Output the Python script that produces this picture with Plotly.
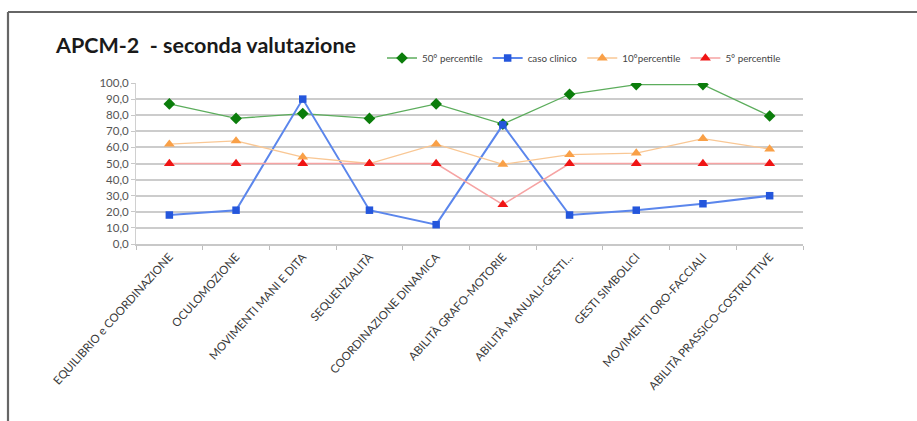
import plotly.graph_objects as go

categories = [
    "EQUILIBRIO e COORDINAZIONE",
    "OCULOMOZIONE",
    "MOVIMENTI MANI E DITA",
    "SEQUENZIALITÀ",
    "COORDINAZIONE DINAMICA",
    "ABILITÀ GRAFO-MOTORIE",
    "ABILITÀ MANUALI-GESTI...",
    "GESTI SIMBOLICI",
    "MOVIMENTI ORO-FACCIALI",
    "ABILITÀ PRASSICO-COSTRUTTIVE",
]
p50 = [87, 78, 81, 78, 87, 74.5, 93, 99, 99, 79.5]
caso = [18, 21, 90, 21, 12, 74, 18, 21, 25, 30]
p10 = [62, 64, 54, 50, 62, 49.5, 55.5, 56.5, 65.5, 59]
p5 = [50, 50, 50, 50, 50, 24.5, 50, 50, 50, 50]

W, H = 917, 421
L, R, T, B = 136, 803, 83, 244

fig = go.Figure()
fig.add_trace(go.Scatter(
    x=categories, y=p50, name="50° percentile", mode="lines+markers",
    line=dict(color="#5cad5c", width=1.3),
    marker=dict(symbol="diamond", size=9, color="#0b7d0b"),
))
fig.add_trace(go.Scatter(
    x=categories, y=caso, name="caso clinico", mode="lines+markers",
    line=dict(color="#5b86ec", width=2),
    marker=dict(symbol="square", size=7.5, color="#2456dc"),
))
fig.add_trace(go.Scatter(
    x=categories, y=p10, name="10°percentile", mode="lines+markers",
    line=dict(color="#f9c794", width=1.3),
    marker=dict(symbol="triangle-up", size=9.5, color="#f9a047"),
))
fig.add_trace(go.Scatter(
    x=categories, y=p5, name="5° percentile", mode="lines+markers",
    line=dict(color="#f6a3a3", width=1.6),
    marker=dict(symbol="triangle-up", size=9.5, color="#f01414"),
))

def px_x(px):
    return (px - L) / (R - L)

def px_y(py):
    return (B - py) / (B - T)

fig.update_layout(
    width=W, height=H,
    margin=dict(l=L, r=W - R, t=T, b=H - B, autoexpand=False),
    paper_bgcolor="white", plot_bgcolor="white",
    separators=",.",
    font=dict(family="Lato, Open Sans, sans-serif", color="#444"),
    title=dict(
        text="<b>APCM-2 \u00a0- seconda valutazione</b>",
        x=56 / W, xref="container", xanchor="left",
        y=1 - 45 / H, yref="container", yanchor="middle",
        font=dict(size=21.5, color="#1a1a1a", family="Lato, Open Sans, sans-serif"),
    ),
    legend=dict(
        orientation="h", x=px_x(382), y=px_y(58), xanchor="left", yanchor="middle",
        font=dict(size=9.8, color="#444"), itemwidth=30, bgcolor="rgba(0,0,0,0)",
        tracegroupgap=0,
    ),
    showlegend=True,
    xaxis=dict(
        type="category", tickson="boundaries", ticks="outside", ticklen=4,
        tickcolor="#bdbdbd", showline=True, linecolor="#c8c8c8", linewidth=1.5,
        showgrid=False, tickangle=-48, tickfont=dict(size=11.5, color="#3a3a3a"),
        range=[-0.5, 9.5],
    ),
    yaxis=dict(
        range=[0, 100], dtick=10, tickformat=".1f", showgrid=True,
        gridcolor="#cccccc", gridwidth=1.5, zeroline=False,
        showline=True, linecolor="#d0d0d0", linewidth=1,
        ticks="outside", ticklen=4, tickcolor="#c8c8c8",
        tickfont=dict(size=11.5, color="#555"),
    ),
    shapes=[
        dict(type="line", xref="paper", yref="paper",
             x0=px_x(8), x1=px_x(925), y0=px_y(12), y1=px_y(12),
             line=dict(color="#666666", width=2.2)),
        dict(type="line", xref="paper", yref="paper",
             x0=px_x(8), x1=px_x(8), y0=px_y(12), y1=px_y(430),
             line=dict(color="#666666", width=2.2)),
    ],
)

fig.write_html("out.html", config={"displayModeBar": False},
               post_script="document.body.style.margin='0';")
